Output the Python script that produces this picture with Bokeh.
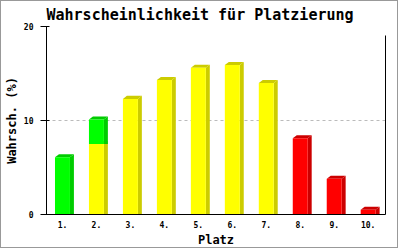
from bokeh.plotting import figure
from bokeh.models import FixedTicker, LinearAxis, Range1d
from bokeh.embed import file_html
from bokeh.resources import INLINE

# ---- data ----
places = [1, 2, 3, 4, 5, 6, 7, 8, 9, 10]
place_labels = ["1.", "2.", "3.", "4.", "5.", "6.", "7.", "8.", "9.", "10."]
yellow = [0, 7.5, 12.3, 14.3, 15.6, 15.9, 14.0, 0, 0, 0]
green = [6.1, 2.6, 0, 0, 0, 0, 0, 0, 0, 0]   # stacked on top of yellow
red = [0, 0, 0, 0, 0, 0, 0, 8.1, 3.8, 0.5]
y_ticks = [0, 10, 20]

# ---- style ----
FONT = "DejaVu Sans Mono"
W = 0.44      # front width (x units)
DX = 0.117    # depth offset x (x units)
DY = 0.32     # depth offset y (y units)
COLORS = {"yellow": ("#ffff00", "#cccc00"),
          "green": ("#00ff00", "#00cc00"),
          "red": ("#ff0000", "#cc0000")}

p = figure(width=398, height=248, output_backend="svg", toolbar_location=None,
           x_range=Range1d(0.53, 10.51), y_range=Range1d(0, 20),
           min_border_left=43, min_border_right=14, min_border_top=24,
           min_border_bottom=35, title="Wahrscheinlichkeit für Platzierung")
p.styles = {"border": "1px solid #999999"}
p.background_fill_color = "white"
p.border_fill_color = "white"
p.outline_line_color = None

p.title.text_font = FONT
p.title.text_font_size = "15px"
p.title.text_font_style = "bold"
p.title.text_color = "black"
p.title.align = "left"
p.title.offset = 0
p.title.standoff = 5

# segments
segs = []
for i, x in enumerate(places):
    if yellow[i] > 0:
        segs.append((x, 0, yellow[i], "yellow"))
    if green[i] > 0:
        segs.append((x, yellow[i], yellow[i] + green[i], "green"))
    if red[i] > 0:
        segs.append((x, 0, red[i], "red"))

xs, ys, cs = [], [], []
for x, b, t, c in segs:
    front, dark = COLORS[c]
    xl, xr = x - W / 2, x + W / 2
    # side
    xs.append([xr, xr + DX, xr + DX, xr])
    ys.append([b, b, t + DY, t])
    cs.append(dark)
    # top
    xs.append([xl, xl + DX, xr + DX, xr])
    ys.append([t, t + DY, t + DY, t])
    cs.append(dark)
    # front
    xs.append([xl, xr, xr, xl])
    ys.append([b, b, t, t])
    cs.append(front)

p.patches(xs=xs, ys=ys, fill_color=cs, line_color=None)

# axes
p.xaxis.ticker = FixedTicker(ticks=places)
p.xaxis.major_label_overrides = {x: l for x, l in zip(places, place_labels)}
p.xaxis.major_tick_out = 0
p.xaxis.major_tick_in = 0
p.xaxis.minor_tick_line_color = None
p.xaxis.axis_label = "Platz"
p.xaxis.major_label_standoff = 6
p.xaxis.axis_label_standoff = 2

p.yaxis.ticker = FixedTicker(ticks=y_ticks)
p.yaxis.major_tick_out = 6
p.yaxis.major_tick_in = 3
p.yaxis.minor_tick_line_color = None
p.yaxis.axis_label = "Wahrsch. (%)"
p.yaxis.major_label_standoff = 7
p.yaxis.axis_label_standoff = 2

for ax in (p.xaxis, p.yaxis):
    ax.axis_line_color = "black"
    ax.major_tick_line_color = "black"
    ax.major_label_text_font = FONT
    ax.major_label_text_font_size = "8px"
    ax.major_label_text_font_style = "bold"
    ax.major_label_text_color = "black"
    ax.axis_label_text_font = FONT
    ax.axis_label_text_font_size = "12px"
    ax.axis_label_text_font_style = "bold"
    ax.axis_label_text_color = "black"

right = LinearAxis(bounds=(0, 19.05), ticker=FixedTicker(ticks=[]),
                   major_label_text_font_size="0px", axis_line_color="black",
                   major_tick_line_color=None, minor_tick_line_color=None)
p.add_layout(right, "right")

p.xgrid.grid_line_color = None
p.ygrid.ticker = FixedTicker(ticks=y_ticks)
p.ygrid.grid_line_color = "#bbbbbb"
p.ygrid.grid_line_dash = "3 3"

open("out.html", "w").write(file_html(p, INLINE))
